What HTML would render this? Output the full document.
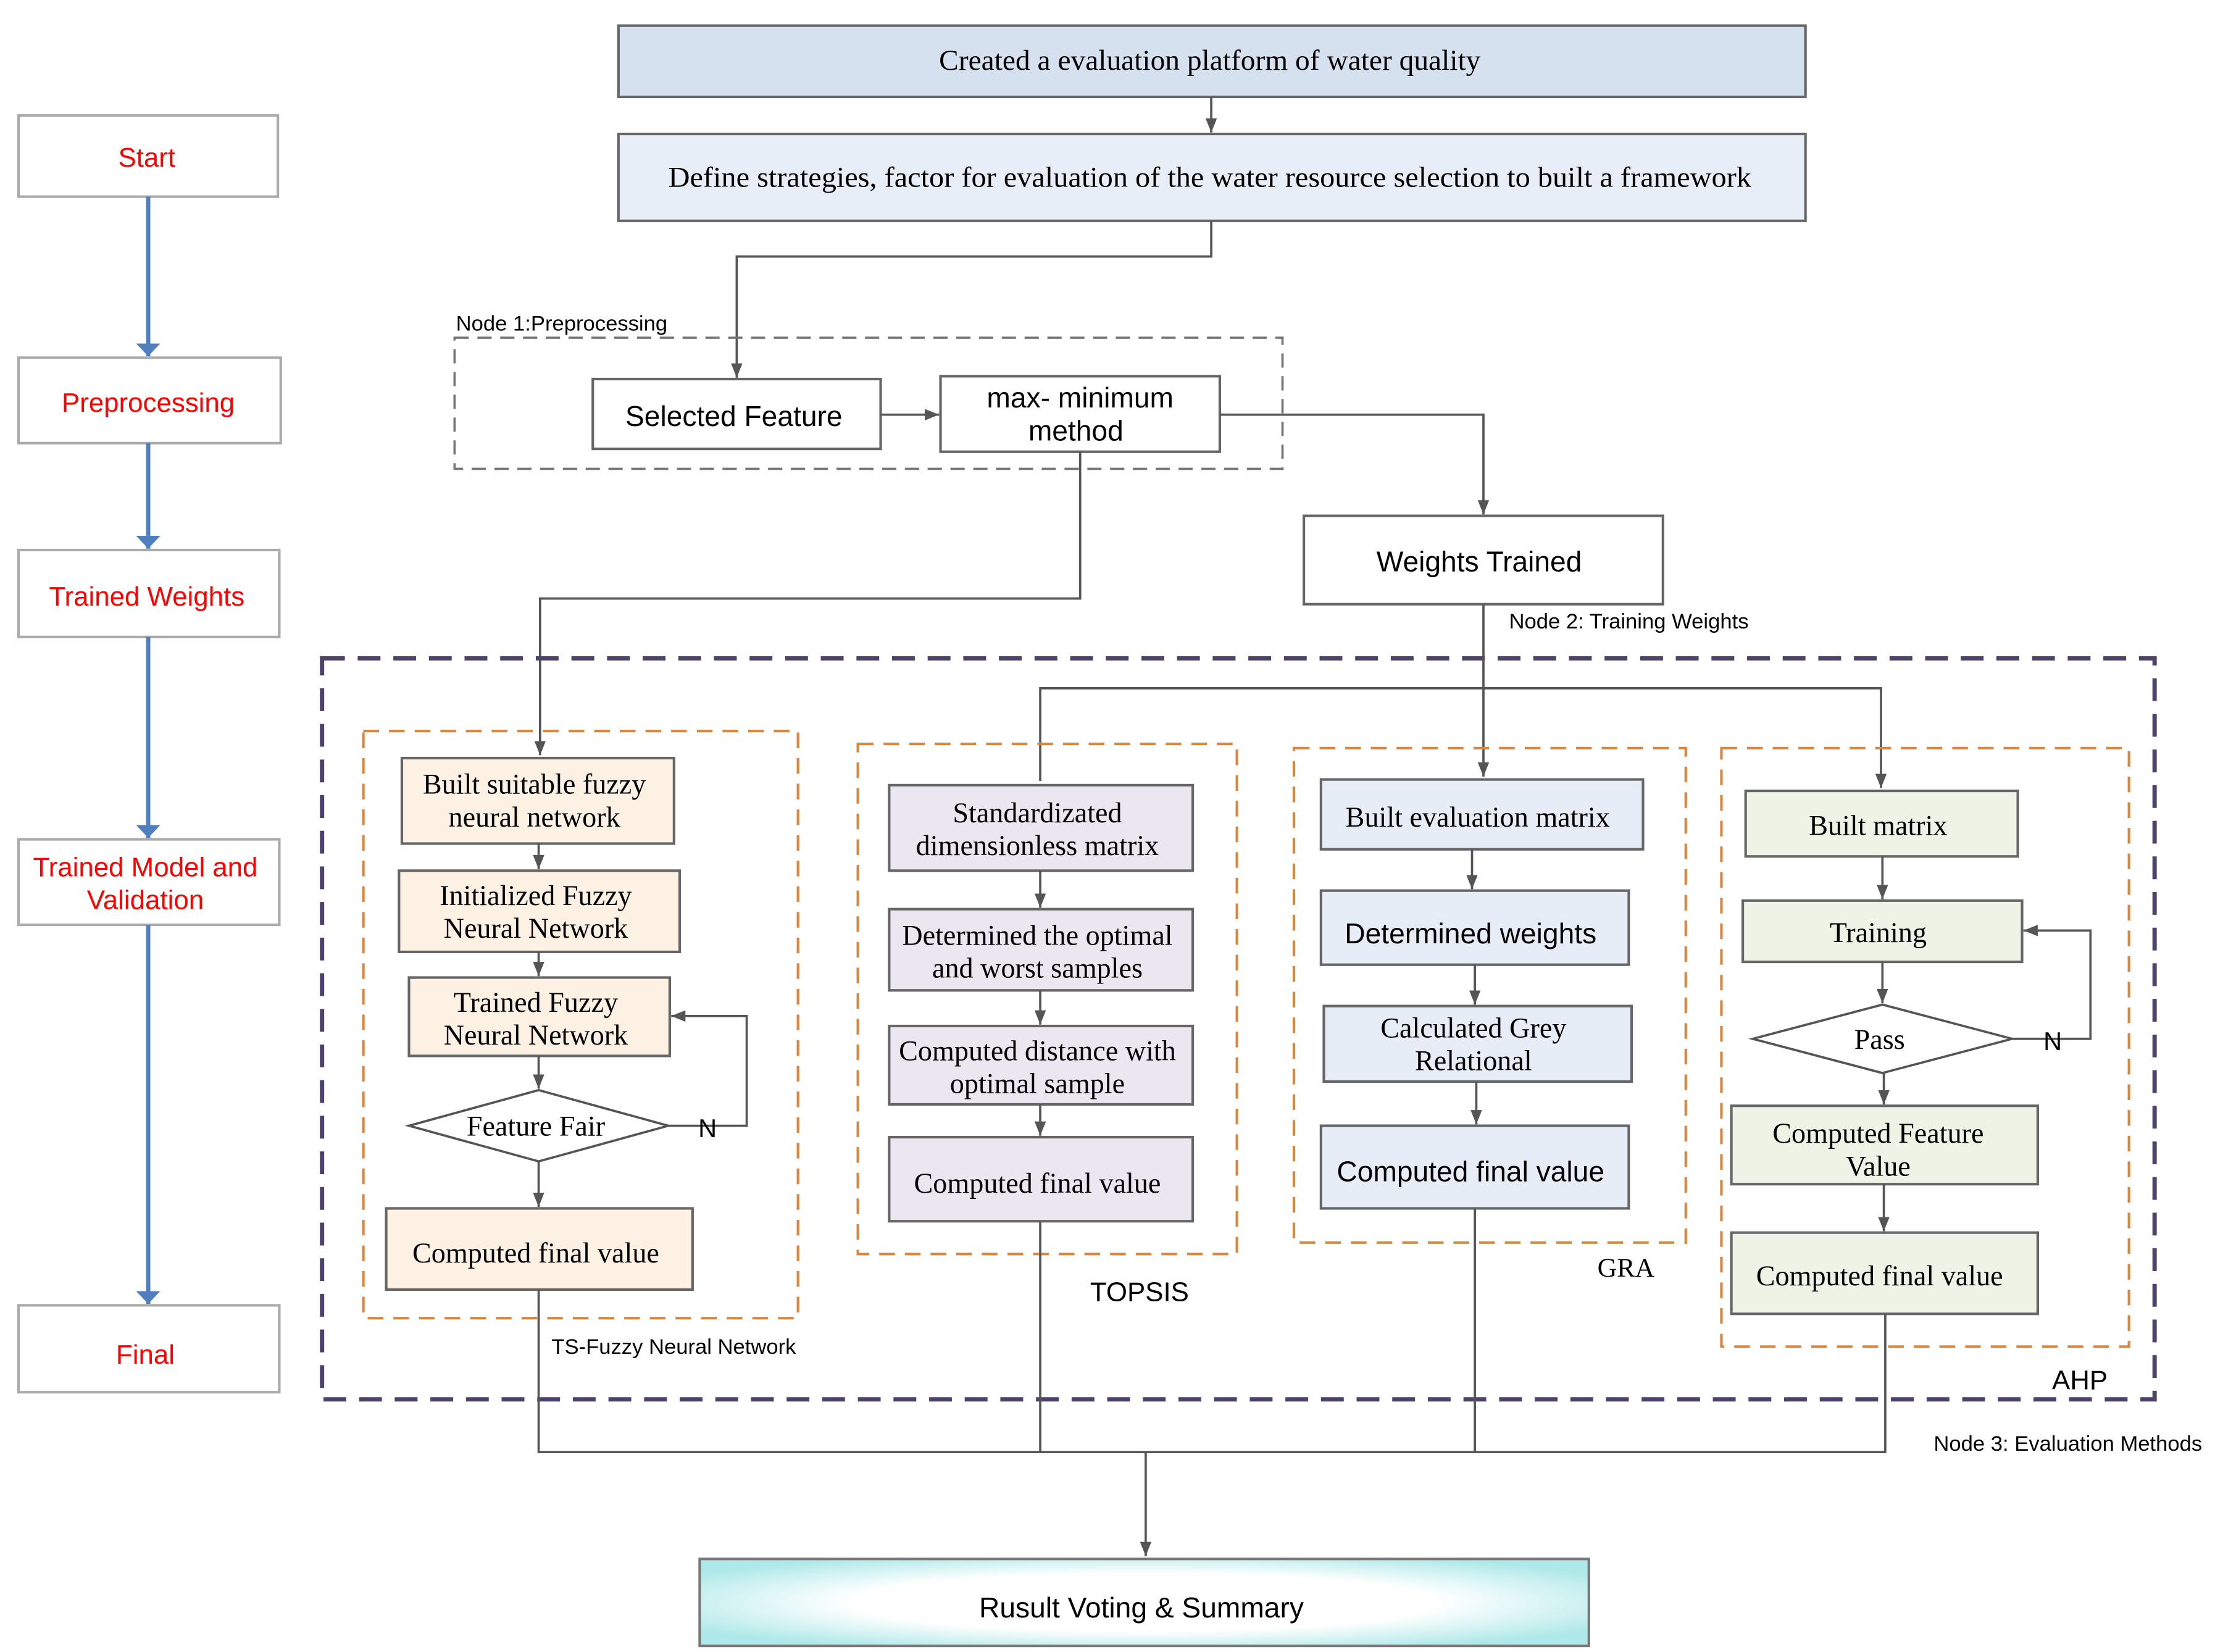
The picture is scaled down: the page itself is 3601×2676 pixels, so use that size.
<!DOCTYPE html>
<html><head><meta charset="utf-8"><style>html,body{margin:0;padding:0;background:#fff}svg{display:block}</style></head>
<body>
<svg width="3601" height="2676" viewBox="0 0 1560 1159.3" preserveAspectRatio="none" xmlns="http://www.w3.org/2000/svg">
<defs>
<marker id="a" viewBox="0 0 10 10" refX="10" refY="5" markerWidth="10" markerHeight="8" preserveAspectRatio="none" markerUnits="userSpaceOnUse" orient="auto"><path d="M0,0L10,5L0,10z" fill="#555"/></marker>
<marker id="ab" viewBox="0 0 10 10" refX="10" refY="5" markerWidth="9" markerHeight="17" preserveAspectRatio="none" markerUnits="userSpaceOnUse" orient="auto"><path d="M0,0L10,5L0,10z" fill="#4f7fc0"/></marker>
<radialGradient id="g" cx="0.5" cy="0.5" r="0.6"><stop offset="0.55" stop-color="#fff"/><stop offset="1" stop-color="#aee8e8"/></radialGradient>
</defs>
<style>
.s{font-family:"Liberation Sans",sans-serif}
.r{font-family:"Liberation Serif",serif}
.ln{stroke:#555;stroke-width:1.6;fill:none}
.bx{stroke:#666;stroke-width:1.8}
</style>
<rect width="1560" height="1160" fill="#fff"/>

<g fill="#fff" stroke="#aaa" stroke-width="1.8">
<rect x="13" y="81" width="182" height="57"/>
<rect x="13" y="251" width="184" height="60"/>
<rect x="13" y="386" width="183" height="61"/>
<rect x="13" y="589" width="183" height="60"/>
<rect x="13" y="916" width="183" height="61"/>
</g>
<g stroke="#4f7fc0" stroke-width="3" fill="none">
<line x1="104" y1="138" x2="104" y2="250" marker-end="url(#ab)"/>
<line x1="104" y1="311" x2="104" y2="385" marker-end="url(#ab)"/>
<line x1="104" y1="447" x2="104" y2="588" marker-end="url(#ab)"/>
<line x1="104" y1="649" x2="104" y2="915" marker-end="url(#ab)"/>
</g>
<g class="s" fill="#f00" font-size="19" text-anchor="middle">
<text x="103" y="117">Start</text>
<text x="104" y="289">Preprocessing</text>
<text x="103" y="425">Trained Weights</text>
<text x="102" y="615">Trained Model and</text>
<text x="102" y="638">Validation</text>
<text x="102" y="957">Final</text>
</g>

<rect class="bx" x="434" y="18" width="833" height="50" fill="#d6e1ef"/>
<text class="r" x="849" y="49" font-size="20" text-anchor="middle" textLength="380" lengthAdjust="spacingAndGlyphs">Created a evaluation platform of water quality</text>
<line class="ln" x1="850" y1="68" x2="850" y2="93" marker-end="url(#a)"/>
<rect class="bx" x="434" y="94" width="833" height="61" fill="#e7eef7"/>
<text class="r" x="849" y="131" font-size="20" text-anchor="middle" textLength="760" lengthAdjust="spacingAndGlyphs">Define strategies, factor for evaluation of the water resource selection to built a framework</text>
<polyline class="ln" points="850,155 850,180 517,180 517,265" marker-end="url(#a)"/>

<rect x="319" y="237" width="581" height="92" fill="none" stroke="#777" stroke-width="1.6" stroke-dasharray="10 6"/>
<text class="s" x="320" y="232" font-size="15">Node 1:Preprocessing</text>
<rect class="bx" x="416" y="266" width="202" height="49" fill="#fff"/>
<text class="s" x="515" y="299" font-size="20" text-anchor="middle">Selected Feature</text>
<line class="ln" x1="618" y1="291" x2="659" y2="291" marker-end="url(#a)"/>
<rect class="bx" x="660" y="264" width="196" height="53" fill="#fff"/>
<text class="s" x="758" y="286" font-size="20" text-anchor="middle">max- minimum</text>
<text class="s" x="755" y="309" font-size="20" text-anchor="middle">method</text>
<polyline class="ln" points="856,291 1041,291 1041,361" marker-end="url(#a)"/>
<rect class="bx" x="915" y="362" width="252" height="62" fill="#fff"/>
<text class="s" x="1038" y="401" font-size="20" text-anchor="middle">Weights Trained</text>
<text class="s" x="1059" y="441" font-size="15">Node 2: Training  Weights</text>
<polyline class="ln" points="758,317 758,420 379,420 379,530" marker-end="url(#a)"/>

<rect x="226" y="462" width="1286" height="520" fill="none" stroke="#4e416e" stroke-width="3" stroke-dasharray="16 9"/>
<line class="ln" x1="1041" y1="424" x2="1041" y2="545" marker-end="url(#a)"/>
<polyline class="ln" points="730,548 730,483 1320,483 1320,553" marker-end="url(#a)"/>

<g fill="none" stroke="#d9873f" stroke-width="1.8" stroke-dasharray="11 7">
<rect x="255" y="513" width="305" height="412"/>
<rect x="602" y="522" width="266" height="358"/>
<rect x="908" y="525" width="275" height="347"/>
<rect x="1208" y="525" width="286" height="420"/>
</g>

<g fill="#fdf1e4" class="bx">
<rect x="282" y="532" width="191" height="60"/>
<rect x="280" y="611" width="197" height="57"/>
<rect x="287" y="686" width="183" height="55"/>
<rect x="271" y="848" width="215" height="57"/>
</g>
<polygon points="287,790 378,765 469,790 378,815" fill="#fff" stroke="#555" stroke-width="1.6"/>
<line class="ln" x1="378" y1="592" x2="378" y2="610" marker-end="url(#a)"/>
<line class="ln" x1="378" y1="668" x2="378" y2="685" marker-end="url(#a)"/>
<line class="ln" x1="378" y1="741" x2="378" y2="764" marker-end="url(#a)"/>
<line class="ln" x1="378" y1="815" x2="378" y2="847" marker-end="url(#a)"/>
<polyline class="ln" points="469,790 524,790 524,713 471,713" marker-end="url(#a)"/>
<g class="r" font-size="20" text-anchor="middle">
<text x="375" y="557">Built suitable fuzzy</text>
<text x="375" y="580">neural network</text>
<text x="376" y="635">Initialized Fuzzy</text>
<text x="376" y="658">Neural Network</text>
<text x="376" y="710">Trained Fuzzy</text>
<text x="376" y="733">Neural Network</text>
<text x="376" y="797">Feature Fair</text>
<text x="376" y="886">Computed final value</text>
</g>
<text class="s" x="490" y="798" font-size="18">N</text>
<text class="s" x="387" y="950" font-size="15">TS-Fuzzy Neural Network</text>

<g fill="#ebe7f0" class="bx">
<rect x="624" y="551" width="213" height="60"/>
<rect x="624" y="638" width="213" height="57"/>
<rect x="624" y="720" width="213" height="55"/>
<rect x="624" y="798" width="213" height="59"/>
</g>
<line class="ln" x1="730" y1="611" x2="730" y2="637" marker-end="url(#a)"/>
<line class="ln" x1="730" y1="695" x2="730" y2="719" marker-end="url(#a)"/>
<line class="ln" x1="730" y1="775" x2="730" y2="797" marker-end="url(#a)"/>
<g class="r" font-size="20" text-anchor="middle">
<text x="728" y="577">Standardizated</text>
<text x="728" y="600">dimensionless matrix</text>
<text x="728" y="663">Determined the optimal</text>
<text x="728" y="686">and worst samples</text>
<text x="728" y="744">Computed distance with</text>
<text x="728" y="767">optimal sample</text>
<text x="728" y="837">Computed final value</text>
</g>
<text class="s" x="765" y="913" font-size="19">TOPSIS</text>

<g fill="#e6edf7" class="bx">
<rect x="927" y="547" width="226" height="49"/>
<rect x="927" y="625" width="216" height="52"/>
<rect x="929" y="706" width="216" height="53"/>
<rect x="927" y="790" width="216" height="58"/>
</g>
<line class="ln" x1="1033" y1="596" x2="1033" y2="624" marker-end="url(#a)"/>
<line class="ln" x1="1035" y1="677" x2="1035" y2="705" marker-end="url(#a)"/>
<line class="ln" x1="1036" y1="759" x2="1036" y2="789" marker-end="url(#a)"/>
<text class="r" x="1037" y="580" font-size="20" text-anchor="middle">Built evaluation matrix</text>
<text class="s" x="1032" y="662" font-size="20" text-anchor="middle">Determined  weights</text>
<text class="r" x="1034" y="728" font-size="20" text-anchor="middle">Calculated Grey</text>
<text class="r" x="1034" y="751" font-size="20" text-anchor="middle">Relational</text>
<text class="s" x="1032" y="829" font-size="20" text-anchor="middle">Computed final value</text>
<text class="r" x="1121" y="896" font-size="19">GRA</text>

<g fill="#eef3e6" class="bx">
<rect x="1225" y="555" width="191" height="46"/>
<rect x="1223" y="632" width="196" height="43"/>
<rect x="1215" y="776" width="215" height="55"/>
<rect x="1215" y="865" width="215" height="57"/>
</g>
<polygon points="1230,729 1321,705 1412,729 1321,753" fill="#fff" stroke="#555" stroke-width="1.6"/>
<line class="ln" x1="1321" y1="601" x2="1321" y2="631" marker-end="url(#a)"/>
<line class="ln" x1="1321" y1="675" x2="1321" y2="704" marker-end="url(#a)"/>
<line class="ln" x1="1322" y1="753" x2="1322" y2="775" marker-end="url(#a)"/>
<line class="ln" x1="1322" y1="831" x2="1322" y2="864" marker-end="url(#a)"/>
<polyline class="ln" points="1412,729 1467,729 1467,653 1420,653" marker-end="url(#a)"/>
<g class="r" font-size="20" text-anchor="middle">
<text x="1318" y="586">Built  matrix</text>
<text x="1318" y="661">Training</text>
<text x="1319" y="736">Pass</text>
<text x="1318" y="802">Computed Feature</text>
<text x="1318" y="825">Value</text>
<text x="1319" y="902">Computed final value</text>
</g>
<text class="s" x="1434" y="737" font-size="18">N</text>
<text class="s" x="1440" y="975" font-size="19">AHP</text>
<text class="s" x="1357" y="1018" font-size="15">Node 3: Evaluation Methods</text>

<polyline class="ln" points="378,905 378,1019 1323,1019 1323,922"/>
<line class="ln" x1="730" y1="857" x2="730" y2="1019"/>
<line class="ln" x1="1035" y1="848" x2="1035" y2="1019"/>
<line class="ln" x1="804" y1="1019" x2="804" y2="1092" marker-end="url(#a)"/>
<rect x="491" y="1094" width="624" height="61" fill="url(#g)" stroke="#777" stroke-width="1.8"/>
<text class="s" x="801" y="1135" font-size="20" text-anchor="middle">Rusult Voting &amp; Summary</text>
</svg>
</body></html>
